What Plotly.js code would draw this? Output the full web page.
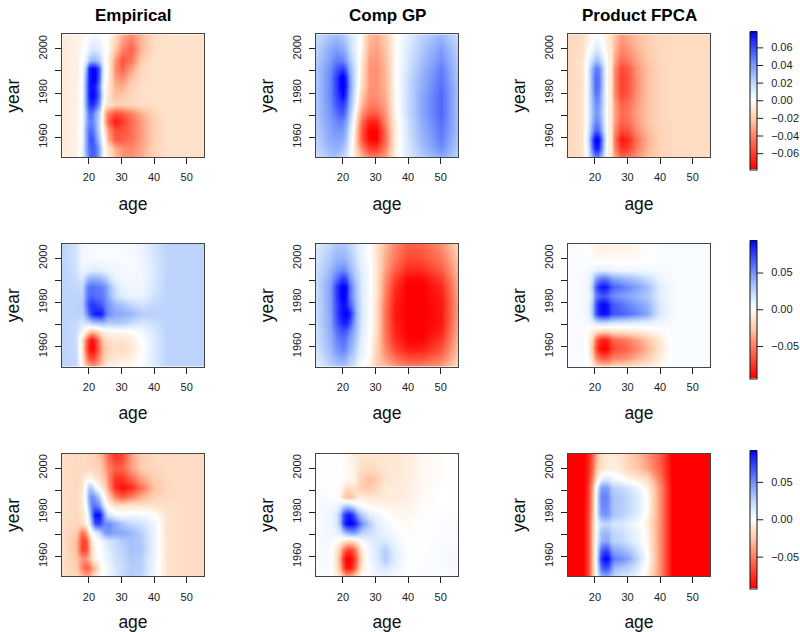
<!DOCTYPE html>
<html><head><meta charset="utf-8">
<script src="https://cdn.plot.ly/plotly-3.0.1.min.js"></script>
<style>html,body{margin:0;padding:0;background:#fff}#c{width:800px;height:632px}</style>
</head><body><div id="c"></div>
<script>
const ages=[12,16,18,19,20,21,22,23,24,25,26,28,30,33,36,40,44,50,55];
const years=[1951,1955,1959,1963,1967,1971,1975,1979,1983,1987,1991,1995,2000,2006];
const columnTitles=["Empirical","Comp GP","Product FPCA"];
const xTicks=[20,30,40,50];
const yTicks=[1960,1970,1980,1990,2000];
const yTickLabels=["1960","","1980","","2000"];
const barTicks1=[-0.06,-0.04,-0.02,0,0.02,0.04,0.06];
const barTicks2=[-0.05,0,0.05];
const barTicks3=[-0.05,0,0.05];
const barLimits=[0.078,0.0936,0.092];
// values in thousandths, rows bottom (1951) to top (2006)
const empirical1=[
[-8,-6,5,30,50,55,50,35,10,-3,-8,-25,-35,-38,-30,-18,-12,-12,-12],
[-8,-6,8,35,50,55,52,35,12,-3,-10,-30,-38,-40,-32,-18,-12,-12,-12],
[-8,-6,5,35,55,58,45,25,5,-8,-30,-52,-52,-46,-34,-19,-12,-12,-12],
[-8,-6,5,35,50,50,38,18,0,-15,-35,-55,-55,-48,-34,-19,-12,-12,-12],
[-8,-6,3,30,45,45,35,18,-2,-30,-50,-72,-62,-48,-34,-19,-12,-12,-12],
[-8,-6,3,30,50,50,35,20,0,-28,-42,-55,-52,-42,-30,-17,-12,-12,-12],
[-8,-6,3,38,62,68,60,40,10,-8,-12,-18,-18,-16,-14,-12,-12,-12,-12],
[-8,-6,3,40,70,78,72,50,18,-2,-10,-25,-22,-16,-13,-12,-12,-12,-12],
[-8,-6,3,40,70,75,70,45,12,-2,-8,-28,-30,-18,-13,-12,-12,-12,-12],
[-8,-6,2,38,70,78,78,55,18,0,-5,-34,-40,-25,-15,-12,-12,-12,-12],
[-8,-6,2,30,70,78,76,55,20,0,-4,-38,-50,-34,-16,-12,-12,-12,-12],
[-8,-6,0,10,25,30,30,22,10,0,-6,-35,-55,-45,-20,-12,-12,-12,-12],
[-8,-6,-2,3,8,12,12,10,5,0,-2,-22,-40,-50,-28,-13,-12,-12,-12],
[-8,-6,-4,-1,2,4,4,3,1,0,-2,-12,-30,-38,-28,-14,-12,-12,-12]];
const compGP1=[
[15,26,26,22,18,14,6,-4,-12,-20,-28,-40,-42,-32,-5,10,22,34,20],
[20,30,32,30,26,20,8,-4,-18,-30,-42,-60,-62,-42,-6,13,26,42,24],
[22,34,36,36,33,26,12,-3,-22,-40,-55,-76,-78,-48,-7,14,29,46,26],
[24,36,40,40,38,30,16,0,-20,-38,-55,-78,-78,-46,-7,15,31,48,28],
[25,38,44,46,44,36,22,5,-15,-32,-48,-68,-68,-40,-6,16,32,50,28],
[26,40,50,54,54,44,28,10,-8,-24,-38,-52,-52,-36,-4,18,34,52,28],
[26,42,56,62,62,52,34,16,2,-14,-28,-42,-42,-32,-3,18,34,52,28],
[26,44,60,70,76,62,38,20,6,-8,-22,-38,-38,-30,-3,18,34,52,28],
[26,44,62,76,80,68,42,22,8,-4,-16,-36,-38,-28,-2,18,32,50,28],
[26,44,62,76,80,66,40,22,10,-2,-14,-36,-38,-28,-2,17,31,48,26],
[26,42,54,60,62,50,34,20,10,-1,-12,-36,-38,-28,-2,15,29,46,26],
[24,38,46,46,44,36,26,16,8,-1,-10,-34,-36,-26,-2,14,26,42,24],
[22,34,38,36,34,28,20,12,6,1,-7,-30,-34,-24,-2,12,24,38,22],
[18,26,28,26,24,20,15,10,6,2,-5,-26,-30,-20,-2,10,20,30,18]];
const product1=[
[-16,-12,10,30,42,42,30,8,-6,-10,-30,-48,-44,-34,-25,-18,-15,-15,-15],
[-16,-12,12,48,70,70,48,12,-6,-10,-38,-64,-60,-42,-28,-18,-15,-15,-15],
[-16,-12,16,55,78,78,55,16,-6,-10,-42,-72,-66,-44,-30,-18,-15,-15,-15],
[-16,-12,12,36,52,52,36,10,-6,-10,-36,-58,-54,-38,-26,-18,-15,-15,-15],
[-16,-12,10,30,42,42,30,8,-6,-10,-32,-50,-46,-34,-24,-17,-15,-15,-15],
[-16,-12,9,26,38,38,26,8,-6,-10,-30,-48,-44,-33,-24,-17,-15,-15,-15],
[-16,-12,9,28,40,40,28,8,-6,-10,-32,-50,-46,-34,-24,-17,-15,-15,-15],
[-16,-12,10,30,46,46,30,8,-6,-10,-36,-58,-52,-36,-25,-17,-15,-15,-15],
[-16,-12,10,34,50,50,34,9,-6,-10,-38,-60,-54,-37,-25,-17,-15,-15,-15],
[-16,-12,10,34,50,50,34,9,-6,-10,-38,-60,-54,-37,-25,-17,-15,-15,-15],
[-16,-12,10,32,46,46,32,9,-6,-10,-36,-58,-52,-36,-25,-17,-15,-15,-15],
[-16,-12,5,16,26,26,16,5,-6,-10,-30,-48,-42,-32,-23,-16,-15,-15,-15],
[-16,-13,-2,5,11,11,5,-2,-8,-11,-26,-40,-36,-28,-21,-16,-15,-15,-15],
[-16,-14,-6,-3,2,2,-3,-6,-10,-12,-22,-34,-30,-24,-20,-16,-15,-15,-15]];
const empirical2=[
[25,22,-5,-25,-35,-40,-38,-30,-22,-12,-8,-5,-4,-2,3,14,25,25,25],
[25,22,-10,-45,-65,-70,-65,-45,-32,-22,-16,-12,-10,-8,0,14,25,25,25],
[25,20,-15,-60,-85,-92,-82,-55,-38,-25,-20,-16,-18,-12,-2,14,25,25,25],
[25,20,-14,-55,-80,-90,-75,-50,-30,-20,-16,-12,-14,-10,-1,14,25,25,25],
[25,20,5,-5,-20,-25,-22,-12,-8,-5,-3,-2,-2,0,5,16,25,25,25],
[25,22,15,18,22,28,30,32,35,32,28,30,28,22,15,20,25,25,25],
[25,25,25,45,65,78,85,88,82,62,50,42,40,36,28,26,25,25,25],
[25,25,28,55,72,78,75,70,65,55,48,36,32,24,18,22,25,25,25],
[25,24,25,50,62,62,60,58,56,50,40,22,12,8,8,18,25,25,25],
[25,22,22,48,58,60,58,56,54,48,38,18,8,6,6,16,25,25,25],
[25,20,14,28,35,38,38,36,32,28,20,8,5,4,5,15,25,25,25],
[25,18,6,8,10,12,12,12,10,8,7,5,4,3,5,15,24,25,25],
[25,16,4,4,3,3,3,3,3,3,3,3,3,3,6,16,24,25,25],
[25,17,6,5,4,4,3,3,3,3,3,3,3,4,8,18,25,25,25]];
const compGP2=[
[12,25,30,30,30,28,22,18,12,5,2,-5,-25,-30,-40,-48,-48,-40,-20],
[15,30,38,42,42,38,30,25,18,10,6,-2,-22,-40,-56,-68,-68,-54,-26],
[18,35,48,52,55,50,40,32,24,14,8,0,-20,-48,-70,-84,-84,-66,-30],
[20,38,52,58,60,55,46,36,28,18,10,0,-18,-52,-78,-92,-92,-74,-34],
[20,40,58,65,68,65,55,42,32,22,12,1,-16,-54,-82,-95,-95,-82,-38],
[22,42,65,78,84,84,72,50,35,24,14,2,-15,-55,-84,-95,-95,-86,-40],
[22,42,70,84,90,94,88,60,38,26,15,3,-15,-55,-86,-95,-95,-86,-42],
[22,44,70,84,90,86,68,50,34,24,14,3,-14,-54,-84,-95,-95,-86,-42],
[22,44,74,90,94,88,62,44,32,22,12,3,-12,-50,-82,-95,-95,-84,-40],
[22,44,74,90,94,90,64,44,30,22,12,3,-12,-48,-78,-95,-95,-80,-38],
[22,40,58,68,74,68,50,36,26,20,12,3,-12,-44,-72,-90,-90,-72,-36],
[20,35,46,50,52,48,38,30,22,16,10,2,-12,-40,-62,-80,-78,-62,-32],
[18,30,36,38,38,35,30,24,18,12,8,1,-12,-36,-54,-70,-68,-54,-28],
[14,24,30,30,30,28,24,20,15,10,6,0,-12,-32,-48,-62,-60,-46,-22]];
const product2=[
[3,3,0,-6,-15,-20,-22,-24,-24,-20,-18,-17,-15,-12,-8,-3,3,3,3],
[3,3,-3,-18,-42,-55,-62,-66,-62,-54,-50,-48,-44,-35,-25,-8,3,3,3],
[3,3,-4,-28,-60,-82,-92,-94,-88,-74,-68,-64,-58,-46,-34,-12,3,3,3],
[3,3,-4,-22,-52,-72,-82,-84,-78,-66,-60,-56,-50,-40,-28,-10,3,3,3],
[3,3,-2,-6,-12,-16,-18,-20,-18,-15,-13,-13,-12,-9,-6,-1,3,3,3],
[3,3,4,8,14,18,20,20,18,16,15,14,13,11,9,5,3,3,3],
[3,3,8,30,62,80,88,90,85,72,68,64,60,52,42,14,3,3,3],
[3,3,8,30,62,82,92,92,85,70,66,60,54,46,38,14,3,3,3],
[3,3,7,20,50,60,66,66,60,54,50,46,42,36,30,11,3,3,3],
[3,3,8,28,60,78,86,88,80,68,64,58,52,44,34,12,3,3,3],
[3,3,6,18,38,48,54,55,50,44,40,36,32,27,20,7,3,3,3],
[3,3,4,5,8,10,10,10,9,8,7,6,6,5,4,3,3,3,3],
[3,3,1,-1,-3,-3,-3,-3,-3,-3,-3,-3,-3,-2,0,3,3,3,3],
[3,2,-1,-3,-5,-7,-7,-7,-7,-7,-6,-6,-6,-4,-1,3,3,3,3]];
const empirical3=[
[-16,-18,-30,-36,-34,-24,-12,-3,0,3,6,14,22,28,22,4,-14,-17,-17],
[-16,-22,-50,-62,-55,-40,-28,-10,-2,2,5,16,20,28,26,6,-14,-17,-17],
[-16,-26,-44,-42,-30,-14,-5,0,3,6,10,18,22,30,26,6,-14,-17,-17],
[-16,-30,-70,-68,-40,-14,-3,1,3,8,12,20,24,32,30,8,-14,-17,-17],
[-16,-30,-70,-66,-35,-10,-1,3,6,12,16,22,28,32,28,8,-14,-17,-17],
[-16,-24,-55,-40,-10,2,10,20,35,45,48,42,40,36,26,7,-14,-17,-17],
[-16,-20,-16,-4,10,40,70,72,60,50,52,40,30,22,18,6,-14,-17,-17],
[-16,-18,-12,-2,22,60,88,90,65,35,15,6,2,4,4,0,-14,-17,-17],
[-16,-18,-10,5,38,56,58,48,28,8,-4,-14,-14,-12,-12,-14,-16,-17,-17],
[-16,-18,-10,12,42,50,42,26,6,-6,-20,-50,-62,-50,-35,-22,-17,-17,-17],
[-16,-18,-12,10,28,24,10,-2,-12,-22,-40,-78,-88,-78,-55,-28,-18,-17,-17],
[-16,-18,-14,-6,0,-4,-10,-16,-22,-30,-46,-76,-76,-60,-40,-24,-18,-17,-17],
[-16,-18,-17,-18,-18,-18,-20,-22,-30,-38,-48,-60,-60,-40,-25,-19,-17,-17,-17],
[-16,-18,-17,-18,-20,-22,-24,-28,-36,-46,-58,-75,-70,-40,-24,-18,-17,-17,-17]];
const compGP3=[
[3,2,-6,-16,-26,-34,-34,-26,-14,-6,0,2,5,6,4,0,2,3,3],
[3,2,-12,-35,-65,-85,-88,-72,-50,-28,-10,2,10,16,8,0,2,3,4],
[3,3,-14,-40,-72,-92,-94,-80,-60,-34,-12,5,12,28,12,0,1,3,4],
[3,3,-10,-28,-50,-65,-70,-62,-45,-24,-8,5,14,26,10,0,1,3,4],
[3,4,-1,-6,-10,-14,-16,-14,-8,-2,4,10,14,14,6,-1,1,2,3],
[3,5,8,14,26,36,42,45,40,32,25,20,15,8,3,-2,0,2,3],
[3,5,14,35,70,88,92,90,78,62,48,28,14,5,0,-3,0,2,3],
[3,5,14,35,66,80,85,72,52,36,26,12,6,1,-3,-4,-1,1,2],
[3,4,6,12,22,28,26,18,10,5,2,-2,-4,-6,-7,-6,-2,0,1],
[3,2,-2,-6,-20,-28,-30,-24,-14,-10,-10,-12,-12,-10,-9,-8,-3,0,1],
[2,1,-1,-3,-8,-16,-14,-14,-16,-20,-24,-26,-20,-10,-10,-8,-3,0,1],
[2,1,0,-1,-2,-3,-4,-6,-10,-18,-24,-30,-26,-13,-11,-9,-4,-1,0],
[2,1,0,0,-1,-2,-4,-6,-10,-14,-16,-18,-16,-12,-11,-9,-4,-1,0],
[2,1,0,-1,-2,-3,-5,-8,-10,-12,-12,-12,-12,-12,-12,-9,-4,-1,0]];
const product3=[
[-96,-96,-70,-32,-6,18,35,40,38,30,22,15,14,5,-8,-45,-96,-96,-96],
[-96,-96,-70,-32,-4,28,60,70,66,50,35,30,25,15,-4,-45,-96,-96,-96],
[-96,-96,-70,-32,-2,38,78,92,88,66,55,50,42,25,0,-45,-96,-96,-96],
[-96,-96,-70,-32,-2,30,60,70,66,48,40,36,30,16,-2,-45,-96,-96,-96],
[-96,-96,-70,-32,-4,18,36,40,38,28,24,22,15,8,-4,-45,-96,-96,-96],
[-96,-96,-70,-32,-4,16,32,35,34,26,22,20,14,8,-5,-45,-96,-96,-96],
[-96,-96,-70,-32,-6,10,20,22,22,18,16,14,10,3,-8,-45,-96,-96,-96],
[-96,-96,-72,-36,-3,25,44,48,45,36,30,26,20,12,-3,-45,-96,-96,-96],
[-96,-96,-72,-38,-3,28,50,52,48,36,30,28,22,14,-2,-45,-96,-96,-96],
[-96,-96,-74,-38,-5,30,52,54,50,36,30,28,22,14,-2,-45,-96,-96,-96],
[-96,-96,-75,-40,-6,20,44,46,42,30,25,22,16,8,-6,-45,-96,-96,-96],
[-96,-96,-78,-50,-22,-5,10,16,16,10,6,2,-4,-8,-16,-52,-96,-96,-96],
[-96,-96,-80,-60,-36,-22,-14,-10,-8,-8,-8,-12,-20,-26,-38,-60,-96,-96,-96],
[-96,-96,-82,-62,-42,-26,-16,-12,-10,-10,-10,-14,-22,-30,-42,-62,-96,-96,-96]];

const panels=[[empirical1,compGP1,product1],[empirical2,compGP2,product2],[empirical3,compGP3,product3]];
const barTicks=[barTicks1,barTicks2,barTicks3];
const W=800,H=632,FONT='"Liberation Sans",Arial,Helvetica,sans-serif';
const colLeft=[62,316,568],colWidth=142,rowTop=[34.3,243.7,453.5],rowHeight=122.8;
const barLeft=749.7,barW=7,barTop=[32,241,451],barH=137.5;
const scale=[[0,'#ff0000'],[0.125,'#ff4530'],[0.25,'#ff8a6e'],[0.35,'#ffc6a6'],[0.425,'#fee3cc'],[0.5,'#ffffff'],
 [0.575,'#dcebff'],[0.65,'#b4ccfb'],[0.75,'#7a9afb'],[0.875,'#3a4cff'],[1,'#0000ff']];
const data=[],layout={width:W,height:H,margin:{l:0,r:0,t:0,b:0},paper_bgcolor:'#fff',plot_bgcolor:'#fff',
 font:{family:FONT,color:'#111'},showlegend:false,annotations:[],shapes:[]};
panels.forEach((row,r)=>{
 const ca=r===0?'coloraxis':'coloraxis'+(r+1);
 layout[ca]={cmin:-barLimits[r],cmax:barLimits[r],colorscale:scale,colorbar:{
  x:barLeft/W,xanchor:'left',xpad:0,ypad:0,y:1-(barTop[r]+barH)/H,yanchor:'bottom',len:barH,lenmode:'pixels',
  thickness:barW,thicknessmode:'pixels',outlinecolor:'#111',outlinewidth:1,borderwidth:0,
  ticks:'outside',ticklen:12,tickwidth:1,tickcolor:'rgba(0,0,0,0)',tickvals:barTicks[r],tickformat:'.2f',
  tickfont:{size:11,family:FONT,color:'#222'}}};
 barTicks[r].forEach(t=>{
  const py=barTop[r]+barH*(1-(t+barLimits[r])/(2*barLimits[r]));
  layout.shapes.push({type:'line',xref:'paper',yref:'paper',x0:(barLeft+barW)/W,x1:(barLeft+barW+6.5)/W,
   y0:1-py/H,y1:1-py/H,line:{color:'#222',width:1}});
 });
 row.forEach((z,c)=>{
  const i=r*3+c+1,sx=i===1?'':String(i);
  data.push({type:'heatmap',x:ages,y:years,z:z.map(v=>v.map(d=>d/1000)),zsmooth:'best',coloraxis:ca,
   xaxis:'x'+sx,yaxis:'y'+sx,hoverinfo:'skip'});
  layout['xaxis'+sx]={domain:[colLeft[c]/W,(colLeft[c]+colWidth)/W],range:[11.75,55.3],anchor:'y'+sx,
   tickvals:xTicks,ticks:'outside',ticklen:6,tickwidth:1,tickcolor:'#222',showgrid:false,zeroline:false,
   showline:true,mirror:true,linecolor:'#444',linewidth:1,ticklabelstandoff:4,
   tickfont:{size:11,family:FONT,color:'#222'},
   title:{text:'age',font:{size:17.5,family:FONT,color:'#111'},standoff:15}};
  layout['yaxis'+sx]={domain:[1-(rowTop[r]+rowHeight)/H,1-rowTop[r]/H],range:[1951,2006.6],anchor:'x'+sx,
   tickvals:yTicks,ticktext:yTickLabels,tickangle:-90,ticks:'outside',ticklen:6,tickwidth:1,tickcolor:'#222',
   showgrid:false,zeroline:false,showline:true,mirror:true,linecolor:'#444',linewidth:1,ticklabelstandoff:4,
   tickfont:{size:11,family:FONT,color:'#222'},
   title:{text:'year',font:{size:17.5,family:FONT,color:'#111'},standoff:12}};
 });
});
columnTitles.forEach((t,c)=>layout.annotations.push({text:'<b>'+t+'</b>',xref:'paper',yref:'paper',
 x:(colLeft[c]+colWidth/2)/W,y:1-15/H,xanchor:'center',yanchor:'middle',showarrow:false,
 font:{size:17,family:FONT,color:'#000'}}));
Plotly.newPlot('c',data,layout,{staticPlot:true,displayModeBar:false});
</script></body></html>
